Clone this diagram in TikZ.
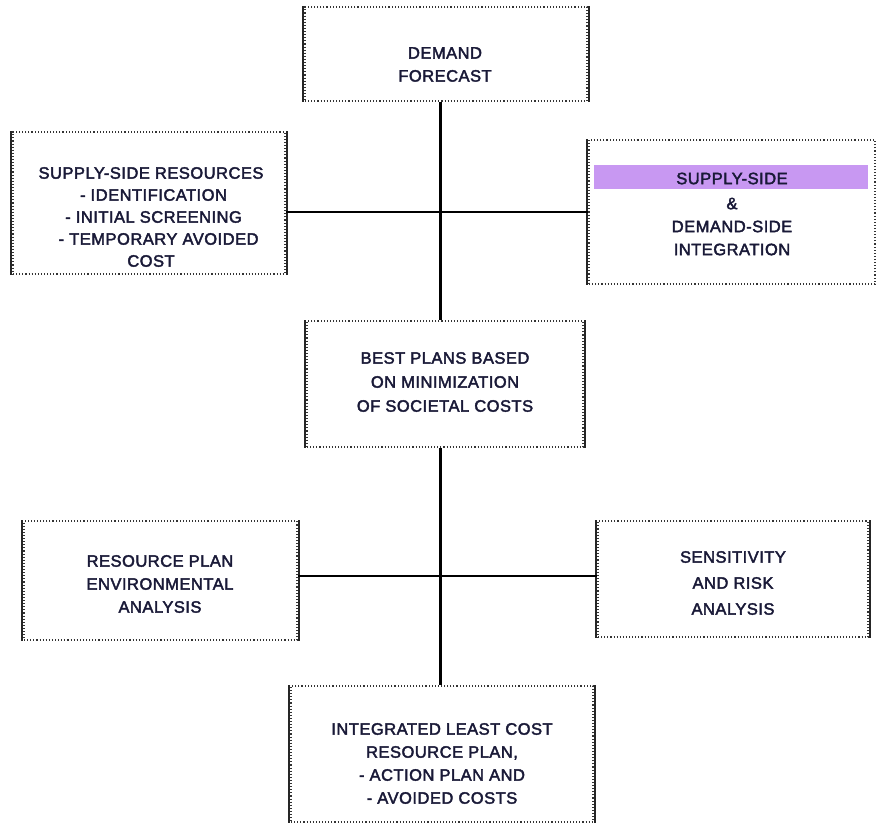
\documentclass[tikz,border=0pt]{standalone}
\usepackage{fontspec}
\setmainfont{Liberation Sans}
\newfontfamily\boxfont{Liberation Sans}[FakeBold=2.4, LetterSpace=3]
\definecolor{txt}{RGB}{25,25,55}
\definecolor{band}{RGB}{200,152,242}
\tikzset{
  box/.style={draw=black!80, dotted, line width=1.1pt, inner sep=0pt},
  lbl/.style={align=center, inner sep=0pt, text=txt,
    font=\boxfont\fontsize{16.5}{23}\selectfont},
  side/.style={draw=black!85, line width=1.8pt},
  vlink/.style={draw=black, line width=3pt},
  hlink/.style={draw=black, line width=1.3pt}
}
\begin{document}
\begin{tikzpicture}[x=1pt,y=-1pt]
\useasboundingbox (0,0) rectangle (876,825);
\fill[band] (594,165) rectangle (868,189);
\node[box, minimum width=282, minimum height=94] (df) at (446,54) {};
\node[box, minimum width=272, minimum height=142] (ss) at (149,203) {};
\node[box, minimum width=286, minimum height=144] (ii) at (732,212) {};
\node[box, minimum width=276, minimum height=126] (bp) at (445,384) {};
\node[box, minimum width=273, minimum height=119] (rp) at (160.5,580.5) {};
\node[box, minimum width=270, minimum height=116] (sa) at (733,579) {};
\node[box, minimum width=302, minimum height=136] (il) at (442,754) {};
\node[lbl] (dft) at (445,64.5) {DEMAND\\FORECAST};
\node[lbl, font=\boxfont\fontsize{16.5}{22}\selectfont] (sst) at (151,217) {SUPPLY-SIDE RESOURCES\\\ - IDENTIFICATION\\\ - INITIAL SCREENING\\\ \ \ - TEMPORARY AVOIDED\\COST};
\node[lbl] (iit) at (732,214) {SUPPLY-SIDE\\[2pt]\&\\DEMAND-SIDE\\INTEGRATION};
\node[lbl, font=\boxfont\fontsize{16.5}{24}\selectfont] (bpt) at (445,382) {BEST PLANS BASED\\ON MINIMIZATION\\OF SOCIETAL COSTS};
\node[lbl] (rpt) at (160,584) {RESOURCE PLAN\\ENVIRONMENTAL\\ANALYSIS};
\node[lbl, font=\boxfont\fontsize{16.5}{26}\selectfont] (sat) at (733,583) {SENSITIVITY\\AND RISK\\ANALYSIS};
\node[lbl] (ilt) at (442,763.5) {INTEGRATED LEAST COST\\RESOURCE PLAN,\\- ACTION PLAN AND\\- AVOIDED COSTS};
\foreach \n in {df,ss,ii,bp,rp,sa,il}{
  \draw[side] ([xshift=-1.2pt]\n.north west) -- ([xshift=-1.2pt]\n.south west);
  \draw[side] ([xshift=1.2pt]\n.north east) -- ([xshift=1.2pt]\n.south east);
}
\draw[vlink] ([xshift=-6pt]df.south) -- ([xshift=-5pt]bp.north);
\draw[vlink] ([xshift=-5pt]bp.south) -- ([xshift=-2pt]il.north);
\draw[hlink] (ii.west -| ss.east) -- (ii.west);
\draw[hlink] ([yshift=4.5pt]rp.east) -- ([yshift=3pt]sa.west);
\end{tikzpicture}
\end{document}
